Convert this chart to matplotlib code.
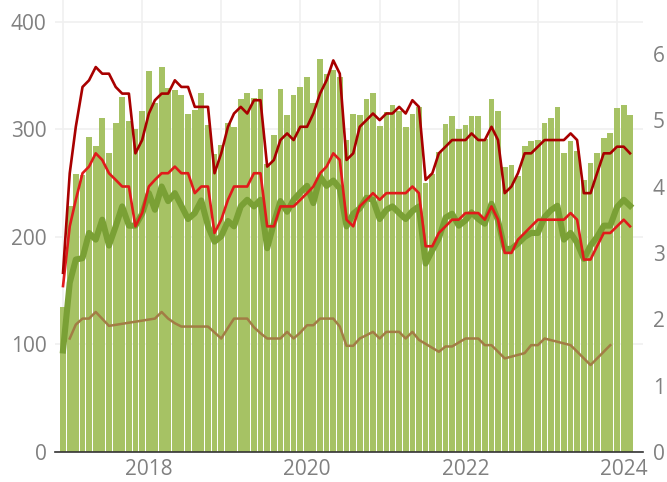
import matplotlib
matplotlib.use('Agg')
import matplotlib.pyplot as plt
import matplotlib.dates as mdates
from matplotlib.ticker import NullFormatter
import pandas as pd

plt.rcParams['font.family'] = ['Open Sans', 'DejaVu Sans']

# ---------------- data ----------------
months = pd.date_range('2017-01-01', periods=87, freq='MS')

bar_values = [135, 229, 258, 257, 293, 284, 310, 278, 306, 330, 308, 300,
              317, 354, 324, 358, 338, 336, 332, 314, 318, 334, 304, 277,
              285, 306, 302, 328, 334, 329, 337, 268, 295, 337, 313, 332,
              339, 348, 324, 365, 351, 355, 348, 290, 314, 313, 328, 334,
              303, 316, 322, 317, 302, 314, 321, 250, 258, 279, 305, 312,
              300, 304, 312, 312, 291, 328, 317, 265, 267, 256, 284, 289,
              290, 306, 310, 321, 278, 289, 280, 253, 269, 278, 292, 296,
              320, 322, 313]

dark_red_values = [2.7, 4.2, 4.9, 5.5, 5.6, 5.8, 5.7, 5.7, 5.5, 5.4, 5.4, 4.5,
                   4.7, 5.1, 5.3, 5.4, 5.4, 5.6, 5.5, 5.5, 5.2, 5.2, 5.2, 4.2,
                   4.5, 4.9, 5.1, 5.2, 5.1, 5.3, 5.3, 4.3, 4.4, 4.7, 4.8, 4.7,
                   4.9, 4.9, 5.1, 5.4, 5.6, 5.9, 5.7, 4.4, 4.5, 4.9, 5.0, 5.1,
                   5.0, 5.1, 5.1, 5.2, 5.1, 5.3, 5.2, 4.1, 4.2, 4.5, 4.6, 4.7,
                   4.7, 4.7, 4.8, 4.7, 4.7, 4.9, 4.7, 3.9, 4.0, 4.2, 4.5, 4.5,
                   4.6, 4.7, 4.7, 4.7, 4.7, 4.8, 4.7, 3.9, 3.9, 4.2, 4.5, 4.5,
                   4.6, 4.6, 4.5]

red_values = [2.5, 3.4, 3.8, 4.2, 4.3, 4.5, 4.4, 4.2, 4.1, 4.0, 4.0, 3.4,
              3.6, 4.0, 4.1, 4.2, 4.2, 4.3, 4.2, 4.2, 3.9, 4.0, 4.0, 3.3,
              3.5, 3.8, 4.0, 4.0, 4.0, 4.2, 4.2, 3.4, 3.4, 3.7, 3.7, 3.7,
              3.8, 3.9, 4.0, 4.2, 4.3, 4.5, 4.4, 3.5, 3.4, 3.7, 3.8, 3.9,
              3.8, 3.9, 3.9, 3.9, 3.9, 4.0, 3.9, 3.1, 3.1, 3.3, 3.4, 3.5,
              3.5, 3.6, 3.6, 3.6, 3.5, 3.7, 3.5, 3.0, 3.0, 3.2, 3.3, 3.4,
              3.5, 3.5, 3.5, 3.5, 3.5, 3.6, 3.5, 2.9, 2.9, 3.1, 3.3, 3.3,
              3.4, 3.5, 3.4]

green_values = [1.53, 2.55, 2.90, 2.92, 3.30, 3.20, 3.50, 3.11, 3.40, 3.70, 3.41, 3.41,
                3.59, 3.90, 3.65, 4.00, 3.78, 3.90, 3.71, 3.51, 3.60, 3.79, 3.40, 3.17,
                3.25, 3.48, 3.40, 3.70, 3.80, 3.70, 3.80, 3.07, 3.45, 3.78, 3.62, 3.80,
                3.91, 4.01, 3.75, 4.15, 4.01, 4.09, 3.97, 3.40, 3.59, 3.67, 3.83, 3.80,
                3.51, 3.65, 3.70, 3.60, 3.51, 3.63, 3.70, 2.84, 3.04, 3.22, 3.53, 3.59,
                3.41, 3.49, 3.61, 3.51, 3.44, 3.74, 3.49, 3.06, 3.06, 3.14, 3.24, 3.30,
                3.30, 3.54, 3.64, 3.71, 3.20, 3.30, 3.15, 2.91, 3.11, 3.24, 3.41, 3.41,
                3.69, 3.80, 3.71]

brown_months = ['2017-02', '2017-03', '2017-04', '2017-05', '2017-06', '2017-08',
                '2018-03', '2018-04', '2018-05', '2018-06', '2018-07', '2018-08',
                '2018-09', '2018-10', '2018-11',
                '2019-01', '2019-02', '2019-03', '2019-04', '2019-05', '2019-06',
                '2019-07', '2019-08', '2019-09', '2019-10', '2019-11', '2019-12',
                '2020-01', '2020-02', '2020-03', '2020-04', '2020-05', '2020-06',
                '2020-07', '2020-08', '2020-09', '2020-10', '2020-11', '2020-12',
                '2021-01', '2021-02', '2021-03', '2021-04', '2021-05', '2021-06',
                '2021-07', '2021-10', '2021-11', '2021-12',
                '2022-02', '2022-03', '2022-04', '2022-05', '2022-06', '2022-08',
                '2022-11', '2022-12', '2023-01', '2023-02', '2023-06', '2023-09',
                '2023-12']
brown_values = [1.71, 1.92, 2.01, 2.01, 2.11, 1.90,
                2.01, 2.11, 2.01, 1.94, 1.89, 1.89,
                1.89, 1.89, 1.89,
                1.71, 1.87, 2.01, 2.01, 2.01, 1.88,
                1.79, 1.71, 1.71, 1.71, 1.81, 1.71,
                1.80, 1.91, 1.91, 2.01, 2.01, 2.01,
                1.89, 1.60, 1.60, 1.71, 1.76, 1.81,
                1.71, 1.81, 1.81, 1.81, 1.71, 1.81,
                1.69, 1.51, 1.59, 1.59,
                1.71, 1.71, 1.71, 1.61, 1.61, 1.41,
                1.49, 1.61, 1.61, 1.71, 1.61, 1.31,
                1.61]

left_ticks = [0, 100, 200, 300, 400]
right_ticks = [0, 1, 2, 3, 4, 5, 6]
year_labels = ['2018', '2020', '2022', '2024']

# ---------------- style ----------------
BAR = '#a6c264'
GREEN = '#7aa035'
DARK_RED = '#a80000'
RED = '#e01b1b'
BROWN = '#a27d45'
GRID = '#f0f0f0'
TXT = '#808080'

fig = plt.figure(figsize=(6.67, 4.82), dpi=100)
ax = fig.add_axes([55 / 667, 30 / 482, 588 / 667, 452 / 482])
ax2 = ax.twinx()

ax.set_axisbelow(True)
ax.bar(months, bar_values, width=26.5, color=BAR, linewidth=0, zorder=2)

ax2.plot(months, green_values, color=GREEN, lw=4.4, zorder=3)
brown_dates = pd.to_datetime(brown_months)
ax2.plot(brown_dates, brown_values, color=BROWN, lw=1.8, zorder=4)
ax2.plot(months, red_values, color=RED, lw=1.9, zorder=5)
ax2.plot(months, dark_red_values, color=DARK_RED, lw=1.9, zorder=6)

ax.set_xlim(pd.Timestamp('2016-11-25'), pd.Timestamp('2024-04-30'))
ax.set_ylim(0, 420)
ax2.set_ylim(0, 6.81)

ax.xaxis.set_major_locator(mdates.YearLocator(1))
ax.xaxis.set_major_formatter(NullFormatter())
label_pos = [pd.Timestamp(f'{y}-02-01') for y in year_labels]
ax.set_xticks(label_pos, minor=True)
ax.set_xticklabels(year_labels, minor=True)

ax.set_yticks(left_ticks)
ax2.set_yticks(right_ticks)

ax.grid(True, axis='x', which='major', color=GRID, lw=1.2)
ax.grid(True, axis='y', which='major', color=GRID, lw=1.2)

ax.tick_params(axis='x', which='both', length=0, labelsize=15, labelcolor=TXT, pad=5)
ax.tick_params(axis='y', length=0, labelsize=15, labelcolor=TXT, pad=6)
ax2.tick_params(axis='y', length=0, labelsize=15, labelcolor=TXT, pad=7)

for s in ['left', 'right', 'top']:
    ax.spines[s].set_visible(False)
for s in ax2.spines.values():
    s.set_visible(False)
ax.spines['bottom'].set_color('#333333')
ax.spines['bottom'].set_linewidth(1.2)
ax.spines['bottom'].set_zorder(5)

fig.savefig('out.png', dpi=100)
